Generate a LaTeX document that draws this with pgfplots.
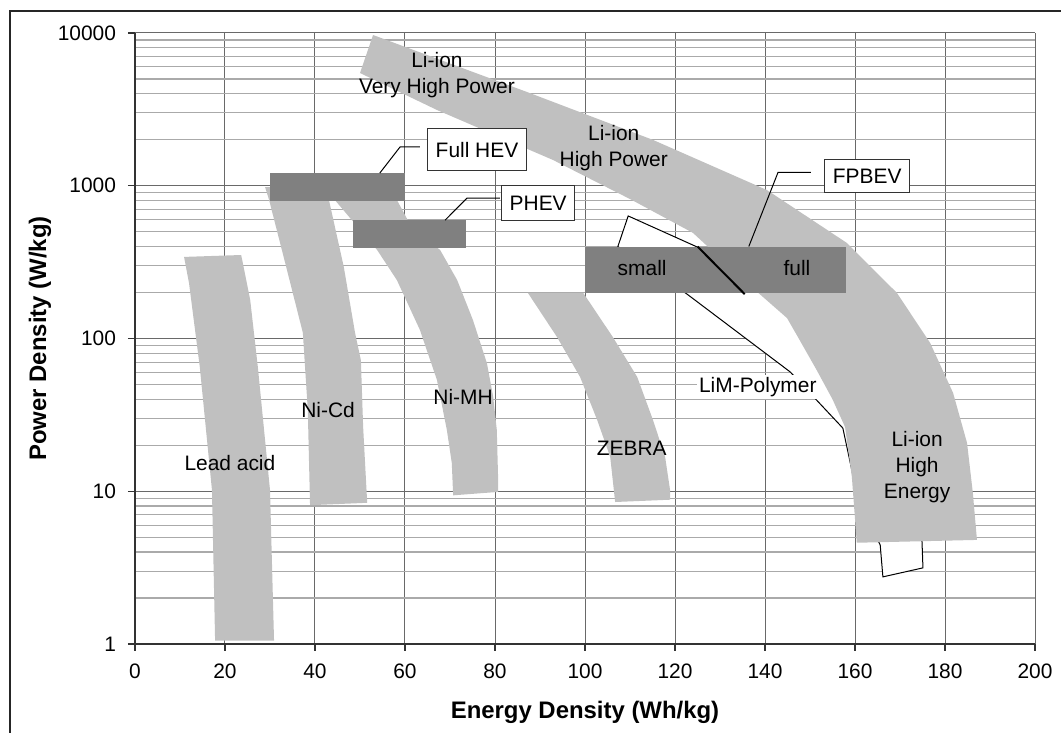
\documentclass[border=0pt]{standalone}
\usepackage{fontspec}
\setmainfont{Liberation Sans}
\usepackage{pgfplots}
\pgfplotsset{compat=1.18}
\definecolor{band}{RGB}{192,192,192}
\definecolor{boxg}{RGB}{128,128,128}
\definecolor{majg}{RGB}{105,105,105}
\definecolor{ming}{RGB}{170,170,170}
\begin{document}
\begin{tikzpicture}[font=\fontsize{10.5}{13}\selectfont]
\begin{axis}[name=ax, scale only axis, width=450bp, height=305.5bp,
 xmin=0, xmax=200, ymin=1, ymax=10000, ymode=log,
 xtick={0,20,40,60,80,100,120,140,160,180,200},
 xticklabels={0,20,40,60,80,100,120,140,160,180,200},
 ytick={1,10,100,1000,10000}, yticklabels={1,10,100,1000,10000},
 minor ytick={2,3,4,5,6,7,8,9,20,30,40,50,60,70,80,90,200,300,400,500,600,700,800,900,2000,3000,4000,5000,6000,7000,8000,9000},
 ymajorgrids, yminorgrids, xmajorgrids,
 major grid style={majg, line width=0.5bp},
 minor grid style={ming, line width=0.6bp},
 axis x line*=bottom, axis y line*=left,
 axis line style={-, black!80, line width=0.8bp},
 tick align=outside, major tick length=3.5bp, minor tick length=0pt,
 tick style={black!80, line width=0.6bp},
 xticklabel style={yshift=-3bp},
 yticklabel style={xshift=-2.5bp},
 xlabel={Energy Density (Wh/kg)}, ylabel={Power Density (W/kg)},
 label style={font=\fontsize{12}{14}\selectfont\bfseries},
 xlabel style={at={(axis description cs:0.5,-0.1113)}, anchor=center},
 ylabel style={at={(axis description cs:-0.1056,0.5)}, anchor=center},
 clip=false,
 ]
% Lead acid
\addplot[fill=band, draw=none] coordinates {(10.9,342) (12,231) (14.4,65) (17.1,10.2) (17.8,1.05) (30.9,1.05) (30,10.2) (27.3,65) (25.6,179) (23.6,352)} -- cycle;
% Ni-Cd
\addplot[fill=band, draw=none] coordinates {(28.9,981) (29.8,807) (33.6,294) (37.3,109) (38.4,34) (38.9,8.1) (51.6,8.4) (50.7,26.3) (50.2,72) (48.9,109) (46.4,294) (43.1,807) (43.3,950)} -- cycle;
% Ni-MH
\addplot[fill=band, draw=none] coordinates {(44.4,900) (44.4,807) (53.8,380) (58.2,241) (63.3,114) (67.1,53.5) (69.3,25.2) (70.4,15.3) (70.7,9.4) (80.7,9.9) (80.7,11.9) (80.4,25.2) (79.6,41.4) (78.2,69) (75.1,132) (71.6,241) (67.8,380) (61.8,513) (58.2,807) (58.2,900)} -- cycle;
% ZEBRA
\addplot[fill=band, draw=none] coordinates {(87.3,199) (93.8,102) (98.9,56) (102.7,29.3) (105.6,16.8) (106.7,8.5) (118.9,8.8) (118.9,10.2) (117.8,16.8) (115.1,29.3) (111.6,56) (106.2,102) (99.6,199)} -- cycle;
% LiM-Polymer outline
\addplot[fill=white, draw=black, line width=0.5bp] coordinates {(109.6,634) (124.7,400) (140.4,193) (146.7,136) (152.2,98) (165.6,39.6) (174.4,8.8) (174.9,4.6) (175.1,3.15) (166.2,2.75) (165.6,4.45) (160.7,8.8) (157.3,25.9) (145.6,60.4) (122.7,195) (107.3,400)} -- cycle;
% Li-ion band
\addplot[fill=band, draw=none] coordinates {(52.9,9700) (87.1,4110) (115.1,1996) (140.4,938) (158.2,422) (169.3,199) (176.7,93.5) (181.8,44) (184.9,20.7) (186.2,9.7) (187.1,4.8) (160.4,4.6) (159.3,12.4) (157.8,26.3) (155,40) (151.5,62) (147.5,100) (144.9,136) (136,231) (124,491) (110.4,807) (92.9,1474) (67.1,3133) (50,5470)} -- cycle;
% Requirement boxes
\addplot[fill=boxg, draw=none] coordinates {(30,800) (60,800) (60,1210) (30,1210)} -- cycle;
\addplot[fill=boxg, draw=none] coordinates {(48.5,390) (73.5,390) (73.5,595) (48.5,595)} -- cycle;
\addplot[fill=boxg, draw=none] coordinates {(100,200) (158,200) (158,400) (100,400)} -- cycle;
\addplot[black, line width=1bp] coordinates {(125,400) (135.5,195)};
% leader lines
\addplot[black, line width=0.5bp] coordinates {(63.3,1794) (58.9,1794) (54.4,1210)};
\addplot[black, line width=0.5bp] coordinates {(81.1,831) (73.8,831) (68.9,595)};
\addplot[black, line width=0.5bp] coordinates {(150.2,1224) (142.9,1224) (136.4,400)};
% labels
\node[align=center] at (axis cs:67.1,5309) {Li-ion\\Very High Power};
\node[align=center] at (axis cs:106.4,1767) {Li-ion\\High Power};
\node[draw=black!80, fill=white, line width=0.5bp, inner xsep=4bp, minimum height=21bp] at (axis cs:76,1714) {Full HEV};
\node[draw=black!80, fill=white, line width=0.5bp, inner xsep=4bp, minimum height=17.5bp] at (axis cs:89.6,771) {PHEV};
\node[draw=black!80, fill=white, line width=0.5bp, inner xsep=4bp, minimum height=16.5bp] at (axis cs:162.7,1159) {FPBEV};
\node at (axis cs:112.7,290) {small};
\node at (axis cs:147.1,290) {full};
\node[fill=white, inner sep=1bp] at (axis cs:138.4,48.2) {LiM-Polymer};
\node[align=center] at (axis cs:173.8,14.4) {Li-ion\\High\\Energy};
\node at (axis cs:110.4,19.2) {ZEBRA};
\node at (axis cs:72.9,41.4) {Ni-MH};
\node at (axis cs:42.9,34) {Ni-Cd};
\node at (axis cs:21.1,15.3) {Lead acid};
\end{axis}
\draw[black!85, line width=1.2bp] ([shift={(-62.5bp,-44.5bp)}]ax.south west) -- ([shift={(-62.5bp,11bp)}]ax.north west) -- ([shift={(13bp,11bp)}]ax.north east);
\pgfresetboundingbox
\path[use as bounding box] ([shift={(-67.5bp,-44.5bp)}]ax.south west) rectangle ([shift={(13bp,16.5bp)}]ax.north east);
\end{tikzpicture}
\end{document}
